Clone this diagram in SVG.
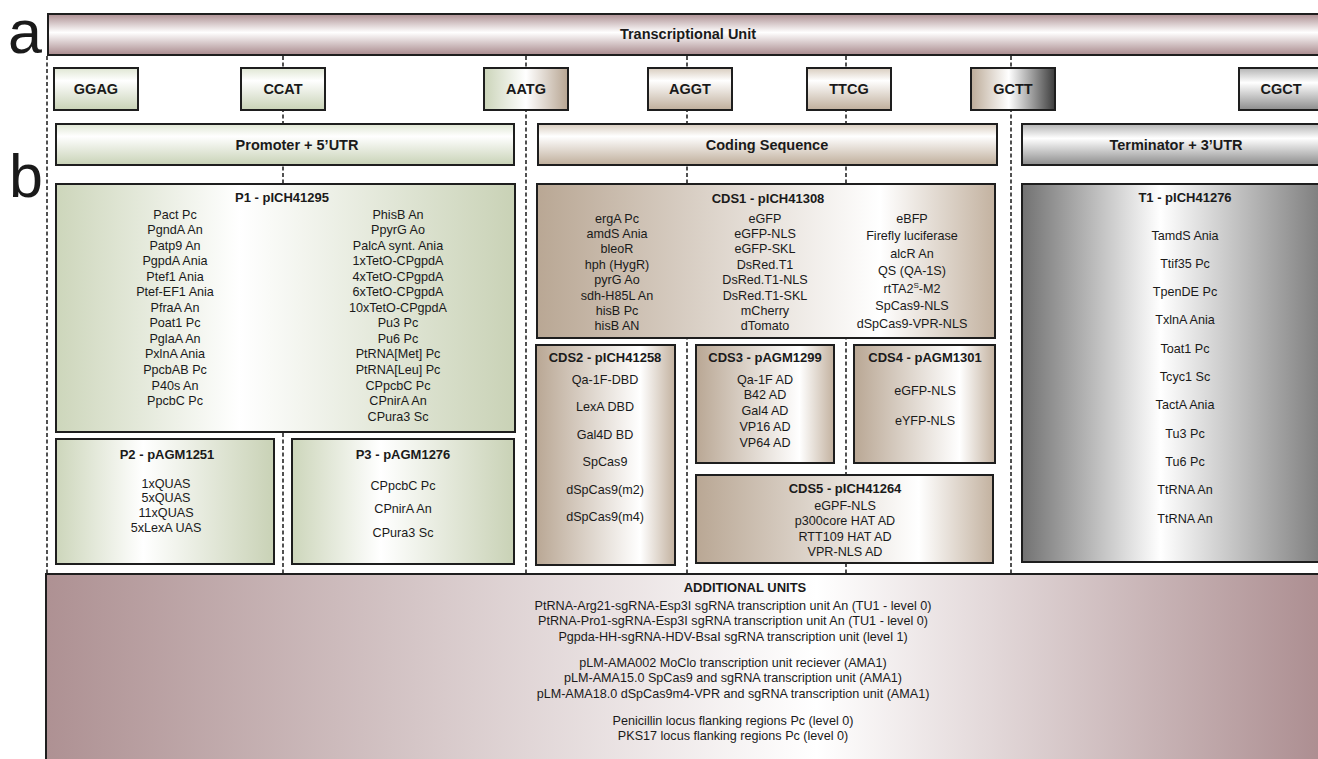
<svg xmlns="http://www.w3.org/2000/svg" width="1318" height="759" viewBox="0 0 1318 759">
<defs>
<linearGradient id="gMauveV" x1="0" y1="0" x2="0" y2="1"><stop offset="0" stop-color="#ad8f92"/><stop offset="0.45" stop-color="#ffffff"/><stop offset="1" stop-color="#a98a8d"/></linearGradient>
<linearGradient id="gGreenV" x1="0" y1="0" x2="0" y2="1"><stop offset="0" stop-color="#dfe6d3"/><stop offset="0.3" stop-color="#ffffff"/><stop offset="1" stop-color="#c8d2b6"/></linearGradient>
<linearGradient id="gTanV" x1="0" y1="0" x2="0" y2="1"><stop offset="0" stop-color="#d8ccbe"/><stop offset="0.3" stop-color="#ffffff"/><stop offset="1" stop-color="#bfae9b"/></linearGradient>
<linearGradient id="gGreyV" x1="0" y1="0" x2="0" y2="1"><stop offset="0" stop-color="#b3b3b3"/><stop offset="0.35" stop-color="#ffffff"/><stop offset="1" stop-color="#8c8c8c"/></linearGradient>
<linearGradient id="gGreenTan" x1="0" y1="0" x2="1" y2="0"><stop offset="0" stop-color="#cbd4b9"/><stop offset="0.5" stop-color="#ffffff"/><stop offset="1" stop-color="#b7a592"/></linearGradient>
<linearGradient id="gTanGrey" x1="0" y1="0" x2="1" y2="0"><stop offset="0" stop-color="#bcab98"/><stop offset="0.45" stop-color="#ffffff"/><stop offset="1" stop-color="#3c3c3c"/></linearGradient>
<linearGradient id="gGreenH" x1="0" y1="0" x2="1" y2="0"><stop offset="0" stop-color="#cdd6bb"/><stop offset="0.4" stop-color="#ffffff"/><stop offset="1" stop-color="#c9d2b6"/></linearGradient>
<linearGradient id="gTanH" x1="0" y1="0" x2="1" y2="0"><stop offset="0" stop-color="#b9a794"/><stop offset="0.75" stop-color="#ffffff"/><stop offset="1" stop-color="#c3b2a0"/></linearGradient>
<linearGradient id="gGreyH" x1="0" y1="0" x2="1" y2="0"><stop offset="0" stop-color="#727272"/><stop offset="0.45" stop-color="#ffffff"/><stop offset="1" stop-color="#777777"/></linearGradient>
<linearGradient id="gMauveH" x1="0" y1="0" x2="1" y2="0"><stop offset="0" stop-color="#ae9193"/><stop offset="0.6" stop-color="#ffffff"/><stop offset="1" stop-color="#ab8c8f"/></linearGradient>
</defs>
<style>
rect.b{stroke:#1e1e1e;stroke-width:2}
text{font-family:"Liberation Sans",Arial,sans-serif;fill:#1a1a1a;text-anchor:middle}
.t{font-weight:bold;font-size:13px}
.s{font-weight:bold;font-size:14.5px}
.i{font-size:12.6px}
.big{font-size:61px;text-anchor:start}
.dash{stroke:#333333;stroke-width:1.7;stroke-dasharray:4 2.5;fill:none}
</style>
<rect width="1318" height="759" fill="#ffffff"/>
<text class="big" x="8" y="53">a</text>
<text class="big" x="9" y="197">b</text>
<g id="connectors">
<line class="dash" x1="47" y1="56" x2="47" y2="574"/>
<line class="dash" x1="283" y1="56" x2="283" y2="574"/>
<line class="dash" x1="526" y1="56" x2="526" y2="574"/>
<line class="dash" x1="687" y1="56" x2="687" y2="574"/>
<line class="dash" x1="846" y1="56" x2="846" y2="574"/>
<line class="dash" x1="1011" y1="56" x2="1011" y2="574"/>
</g>
<g id="tu"><rect class="b" x="48" y="14" width="1282" height="41" fill="url(#gMauveV)"/><text class="s" x="688" y="39">Transcriptional Unit</text></g>
<g id="ggag"><rect class="b" x="54" y="68" width="84" height="42" fill="url(#gGreenV)"/><text class="s" x="96" y="94">GGAG</text></g>
<g id="ccat"><rect class="b" x="241" y="68" width="84" height="42" fill="url(#gGreenV)"/><text class="s" x="283" y="94">CCAT</text></g>
<g id="aatg"><rect class="b" x="484" y="68" width="84" height="42" fill="url(#gGreenTan)"/><text class="s" x="526" y="94">AATG</text></g>
<g id="aggt"><rect class="b" x="648" y="68" width="84" height="42" fill="url(#gTanV)"/><text class="s" x="690" y="94">AGGT</text></g>
<g id="ttcg"><rect class="b" x="807" y="68" width="84" height="42" fill="url(#gTanV)"/><text class="s" x="849" y="94">TTCG</text></g>
<g id="gctt"><rect class="b" x="971" y="68" width="84" height="42" fill="url(#gTanGrey)"/><text class="s" x="1013" y="94">GCTT</text></g>
<g id="cgct"><rect class="b" x="1239" y="68" width="84" height="42" fill="url(#gGreyV)"/><text class="s" x="1281" y="94">CGCT</text></g>
<g id="promoter"><rect class="b" x="56" y="124" width="458" height="41" fill="url(#gGreenV)"/><text class="s" x="297" y="150">Promoter + 5’UTR</text></g>
<g id="coding"><rect class="b" x="538" y="124" width="459" height="41" fill="url(#gTanV)"/><text class="s" x="767" y="150">Coding Sequence</text></g>
<g id="terminator"><rect class="b" x="1022" y="124" width="308" height="41" fill="url(#gGreyV)"/><text class="s" x="1176" y="150">Terminator + 3’UTR</text></g>
<g id="p1"><rect class="b" x="56" y="184" width="459" height="248" fill="url(#gGreenH)"/>
<text class="t" x="282" y="202">P1 - pICH41295</text>
<text class="i" x="175" y="218.5">Pact Pc</text><text class="i" x="175" y="234">PgndA An</text><text class="i" x="175" y="249.6">Patp9 An</text><text class="i" x="175" y="265.1">PgpdA Ania</text><text class="i" x="175" y="280.7">Ptef1 Ania</text><text class="i" x="175" y="296.2">Ptef-EF1 Ania</text><text class="i" x="175" y="311.8">PfraA An</text><text class="i" x="175" y="327.3">Poat1 Pc</text><text class="i" x="175" y="342.9">PglaA An</text><text class="i" x="175" y="358.4">PxlnA Ania</text><text class="i" x="175" y="374">PpcbAB Pc</text><text class="i" x="175" y="389.5">P40s An</text><text class="i" x="175" y="405.1">PpcbC Pc</text>
<text class="i" x="398" y="218.5">PhisB An</text><text class="i" x="398" y="234">PpyrG Ao</text><text class="i" x="398" y="249.6">PalcA synt. Ania</text><text class="i" x="398" y="265.1">1xTetO-CPgpdA</text><text class="i" x="398" y="280.7">4xTetO-CPgpdA</text><text class="i" x="398" y="296.2">6xTetO-CPgpdA</text><text class="i" x="398" y="311.8">10xTetO-CPgpdA</text><text class="i" x="398" y="327.3">Pu3 Pc</text><text class="i" x="398" y="342.9">Pu6 Pc</text><text class="i" x="398" y="358.4">PtRNA[Met] Pc</text><text class="i" x="398" y="374">PtRNA[Leu] Pc</text><text class="i" x="398" y="389.5">CPpcbC Pc</text><text class="i" x="398" y="405.1">CPnirA An</text><text class="i" x="398" y="420.6">CPura3 Sc</text>
</g>
<g id="p2"><rect class="b" x="56" y="439" width="218" height="125" fill="url(#gGreenH)"/>
<text class="t" x="167" y="459">P2 - pAGM1251</text>
<text class="i" x="166" y="487.5">1xQUAS</text><text class="i" x="166" y="502.2">5xQUAS</text><text class="i" x="166" y="516.9">11xQUAS</text><text class="i" x="166" y="531.6">5xLexA UAS</text>
</g>
<g id="p3"><rect class="b" x="292" y="439" width="222" height="125" fill="url(#gGreenH)"/>
<text class="t" x="403" y="459">P3 - pAGM1276</text>
<text class="i" x="403" y="489.5">CPpcbC Pc</text><text class="i" x="403" y="513">CPnirA An</text><text class="i" x="403" y="536.5">CPura3 Sc</text>
</g>
<g id="cds1"><rect class="b" x="537" y="184" width="458" height="154" fill="url(#gTanH)"/>
<text class="t" x="768" y="203">CDS1 - pICH41308</text>
<text class="i" x="617" y="222.5">ergA Pc</text><text class="i" x="617" y="237.9">amdS Ania</text><text class="i" x="617" y="253.3">bleoR</text><text class="i" x="617" y="268.7">hph (HygR)</text><text class="i" x="617" y="284.1">pyrG Ao</text><text class="i" x="617" y="299.5">sdh-H85L An</text><text class="i" x="617" y="314.9">hisB Pc</text><text class="i" x="617" y="330.3">hisB AN</text>
<text class="i" x="765" y="222.5">eGFP</text><text class="i" x="765" y="237.9">eGFP-NLS</text><text class="i" x="765" y="253.3">eGFP-SKL</text><text class="i" x="765" y="268.7">DsRed.T1</text><text class="i" x="765" y="284.1">DsRed.T1-NLS</text><text class="i" x="765" y="299.5">DsRed.T1-SKL</text><text class="i" x="765" y="314.9">mCherry</text><text class="i" x="765" y="330.3">dTomato</text>
<text class="i" x="912" y="222.5">eBFP</text><text class="i" x="912" y="240">Firefly luciferase</text><text class="i" x="912" y="257.5">alcR An</text><text class="i" x="912" y="275">QS (QA-1S)</text><text class="i" x="912" y="292.5">rtTA2<tspan font-size="8" dy="-5">S</tspan><tspan dy="5">-M2</tspan></text><text class="i" x="912" y="310">SpCas9-NLS</text><text class="i" x="912" y="327.5">dSpCas9-VPR-NLS</text>
</g>
<g id="cds2"><rect class="b" x="536" y="345" width="139" height="220" fill="url(#gTanH)"/>
<text class="t" x="605" y="362">CDS2 - pICH41258</text>
<text class="i" x="605" y="383.5">Qa-1F-DBD</text><text class="i" x="605" y="411">LexA DBD</text><text class="i" x="605" y="438.5">Gal4D BD</text><text class="i" x="605" y="466">SpCas9</text><text class="i" x="605" y="493.5">dSpCas9(m2)</text><text class="i" x="605" y="521">dSpCas9(m4)</text>
</g>
<g id="cds3"><rect class="b" x="696" y="345" width="138" height="118" fill="url(#gTanH)"/>
<text class="t" x="765" y="362">CDS3 - pAGM1299</text>
<text class="i" x="765" y="383.5">Qa-1F AD</text><text class="i" x="765" y="399.2">B42 AD</text><text class="i" x="765" y="415">Gal4 AD</text><text class="i" x="765" y="430.7">VP16 AD</text><text class="i" x="765" y="446.5">VP64 AD</text>
</g>
<g id="cds4"><rect class="b" x="854" y="345" width="141" height="118" fill="url(#gTanH)"/>
<text class="t" x="925" y="362">CDS4 - pAGM1301</text>
<text class="i" x="925" y="394.5">eGFP-NLS</text><text class="i" x="925" y="424.5">eYFP-NLS</text>
</g>
<g id="cds5"><rect class="b" x="696" y="475" width="297" height="88" fill="url(#gTanH)"/>
<text class="t" x="845" y="493">CDS5 - pICH41264</text>
<text class="i" x="845" y="509.5">eGPF-NLS</text><text class="i" x="845" y="525">p300core HAT AD</text><text class="i" x="845" y="540.5">RTT109 HAT AD</text><text class="i" x="845" y="556">VPR-NLS AD</text>
</g>
<g id="t1"><rect class="b" x="1022" y="184" width="308" height="378" fill="url(#gGreyH)"/>
<text class="t" x="1185" y="202">T1 - pICH41276</text>
<text class="i" x="1185" y="239.5">TamdS Ania</text><text class="i" x="1185" y="267.8">Ttif35 Pc</text><text class="i" x="1185" y="296.1">TpenDE Pc</text><text class="i" x="1185" y="324.4">TxlnA Ania</text><text class="i" x="1185" y="352.7">Toat1 Pc</text><text class="i" x="1185" y="381">Tcyc1 Sc</text><text class="i" x="1185" y="409.3">TactA Ania</text><text class="i" x="1185" y="437.6">Tu3 Pc</text><text class="i" x="1185" y="465.9">Tu6 Pc</text><text class="i" x="1185" y="494.2">TtRNA An</text><text class="i" x="1185" y="522.5">TtRNA An</text>
</g>
<g id="additional"><rect class="b" x="46" y="574" width="1284" height="200" fill="url(#gMauveH)"/>
<text class="t" x="745" y="592">ADDITIONAL UNITS</text>
<text class="i" x="733" y="609.5">PtRNA-Arg21-sgRNA-Esp3I sgRNA transcription unit An (TU1 - level 0)</text>
<text class="i" x="733" y="625">PtRNA-Pro1-sgRNA-Esp3I sgRNA transcription unit An (TU1 - level 0)</text>
<text class="i" x="733" y="640.5">Pgpda-HH-sgRNA-HDV-BsaI sgRNA transcription unit (level 1)</text>
<text class="i" x="733" y="666.5">pLM-AMA002 MoClo transcription unit reciever (AMA1)</text>
<text class="i" x="733" y="682">pLM-AMA15.0 SpCas9 and sgRNA transcription unit (AMA1)</text>
<text class="i" x="733" y="697.5">pLM-AMA18.0 dSpCas9m4-VPR and sgRNA transcription unit (AMA1)</text>
<text class="i" x="733" y="724.5">Penicillin locus flanking regions Pc (level 0)</text>
<text class="i" x="733" y="740">PKS17 locus flanking regions Pc (level 0)</text>
</g>
</svg>
